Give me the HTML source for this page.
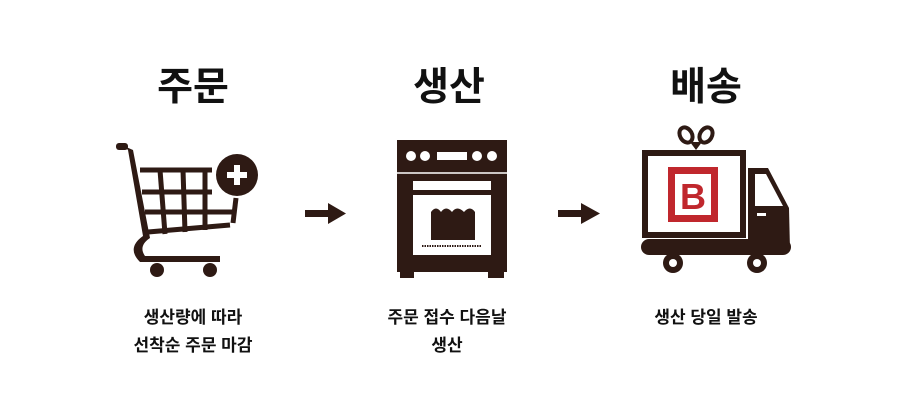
<!DOCTYPE html>
<html><head><meta charset="utf-8"><style>
body{margin:0;background:#fff;width:902px;height:406px;overflow:hidden;position:relative;font-family:"Liberation Sans","Noto Sans CJK KR",sans-serif;color:#111}
.t{position:absolute;font-size:39px;font-weight:bold;text-align:center;width:200px}
.d{position:absolute;font-size:17px;font-weight:bold;text-align:center;width:220px;line-height:28px}
</style></head><body>
<svg width="902" height="406" style="position:absolute;left:0;top:0">
<g fill="#2e1a14" stroke="none">
<!-- cart -->
<rect x="116" y="143" width="12" height="7" rx="3"/>
<path d="M124 146 L133 150 L150 238 Q138 246 145 256 L220 256 L220 262 L140 262 Q126 248 143 236 L128 150Z"/>
<g stroke="#2e1a14" stroke-width="5" fill="none">
<line x1="140" y1="170" x2="212" y2="170"/>
<line x1="142" y1="192" x2="212" y2="192"/>
<line x1="145" y1="212" x2="236" y2="212"/>
<line x1="148" y1="232" x2="230" y2="225"/>
<line x1="160" y1="170" x2="165" y2="234"/>
<line x1="183" y1="170" x2="185" y2="232"/>
<line x1="205" y1="170" x2="205" y2="230"/>
<line x1="236" y1="198" x2="233" y2="223"/>
</g>
<circle cx="237" cy="175" r="21"/>
<rect x="227" y="172" width="20" height="6" fill="#fff"/>
<rect x="234" y="165" width="6" height="20" fill="#fff"/>
<circle cx="157" cy="270" r="7"/><circle cx="210" cy="270" r="7"/>
<!-- oven -->
<rect x="397" y="140" width="110" height="132"/>
<rect x="400" y="270" width="14" height="8"/><rect x="488" y="270" width="16" height="8"/>
<line x1="397" y1="173" x2="507" y2="173" stroke="#fff" stroke-width="1.5"/>
<circle cx="411" cy="156" r="5" fill="#fff"/><circle cx="425" cy="156" r="5" fill="#fff"/>
<circle cx="477" cy="156" r="5" fill="#fff"/><circle cx="492" cy="156" r="5" fill="#fff"/>
<rect x="437" y="152" width="30" height="8" fill="#fff"/>
<rect x="413" y="181" width="78" height="74" fill="#fff"/>
<rect x="413" y="190" width="78" height="5"/>
<path d="M431 240 V212 Q436 205 441 212 Q446 205 452 212 Q457 205 464 212 Q470 205 475 212 V240Z"/>
<line x1="422" y1="246" x2="482" y2="246" stroke="#2e1a14" stroke-width="2" stroke-dasharray="1.5 1"/>
<!-- arrows -->
<rect x="305" y="210" width="26" height="7"/><path d="M328 203 L346 213.5 L328 224Z"/>
<rect x="558" y="210" width="26" height="7"/><path d="M581 203 L600 213.5 L581 224Z"/>
<!-- truck -->
<rect x="642" y="150" width="104" height="88"/>
<rect x="648" y="156" width="92" height="76" fill="#fff"/>
<rect x="668" y="167" width="50" height="55" fill="#c0272d"/>
<rect x="675" y="174" width="36" height="41" fill="#fff"/>
<text x="693" y="209" font-family="Liberation Sans" font-weight="bold" font-size="36" fill="#c0272d" text-anchor="middle">B</text>
<g fill="none" stroke="#2e1a14" stroke-width="4">
<ellipse cx="686" cy="135" rx="6" ry="8" transform="rotate(-30 686 135)"/>
<ellipse cx="706" cy="135" rx="6" ry="8" transform="rotate(30 706 135)"/>
</g>
<path d="M690 142 L696 150 L702 142Z"/>
<path d="M748 168 L768 168 L789 208 L790 250 L748 250Z"/>
<path d="M755 174 L766 174 L783 206 L755 206Z" fill="#fff"/>
<rect x="757" y="213" width="9" height="3" fill="#fff"/>
<rect x="641" y="239" width="150" height="16" rx="8"/>
<circle cx="673" cy="263" r="10"/><circle cx="673" cy="263" r="4" fill="#fff"/>
<circle cx="757" cy="263" r="10"/><circle cx="757" cy="263" r="4" fill="#fff"/>
</g>
</svg>
<div class="t" style="left:93px;top:56px">주문</div>
<div class="t" style="left:349px;top:56px">생산</div>
<div class="t" style="left:606px;top:56px">배송</div>
<div class="d" style="left:83px;top:304px">생산량에 따라<br>선착순 주문 마감</div>
<div class="d" style="left:337px;top:304px">주문 접수 다음날<br>생산</div>
<div class="d" style="left:596px;top:304px">생산 당일 발송</div>
</body></html>
